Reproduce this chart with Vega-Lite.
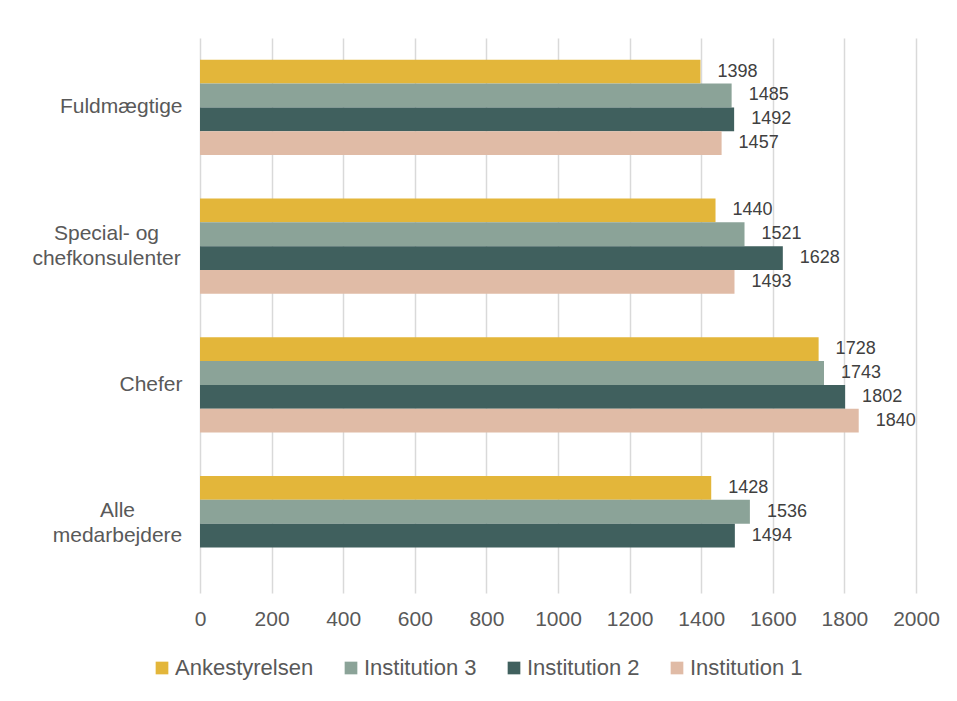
{
  "$schema": "https://vega.github.io/schema/vega-lite/v6.json",
  "autosize": "none",
  "width": 716,
  "height": 555,
  "padding": {"left": 200, "top": 38, "right": 41, "bottom": 108},
  "background": "white",
  "config": {
    "font": "Liberation Sans",
    "view": {"stroke": null},
    "axis": {"labelFont": "Liberation Sans", "labelColor": "#595959"}
  },
  "data": {
    "values": [
      {"kategori": "Fuldmægtige", "serie": "Ankestyrelsen", "vaerdi": 1398},
      {"kategori": "Fuldmægtige", "serie": "Institution 3", "vaerdi": 1485},
      {"kategori": "Fuldmægtige", "serie": "Institution 2", "vaerdi": 1492},
      {"kategori": "Fuldmægtige", "serie": "Institution 1", "vaerdi": 1457},
      {"kategori": "Special- og chefkonsulenter", "serie": "Ankestyrelsen", "vaerdi": 1440},
      {"kategori": "Special- og chefkonsulenter", "serie": "Institution 3", "vaerdi": 1521},
      {"kategori": "Special- og chefkonsulenter", "serie": "Institution 2", "vaerdi": 1628},
      {"kategori": "Special- og chefkonsulenter", "serie": "Institution 1", "vaerdi": 1493},
      {"kategori": "Chefer", "serie": "Ankestyrelsen", "vaerdi": 1728},
      {"kategori": "Chefer", "serie": "Institution 3", "vaerdi": 1743},
      {"kategori": "Chefer", "serie": "Institution 2", "vaerdi": 1802},
      {"kategori": "Chefer", "serie": "Institution 1", "vaerdi": 1840},
      {"kategori": "Alle medarbejdere", "serie": "Ankestyrelsen", "vaerdi": 1428},
      {"kategori": "Alle medarbejdere", "serie": "Institution 3", "vaerdi": 1536},
      {"kategori": "Alle medarbejdere", "serie": "Institution 2", "vaerdi": 1494}
    ]
  },
  "encoding": {
    "y": {
      "field": "kategori",
      "type": "nominal",
      "sort": ["Fuldmægtige", "Special- og chefkonsulenter", "Chefer", "Alle medarbejdere"],
      "scale": {"paddingInner": 0.315, "paddingOuter": 0.1575},
      "axis": {
        "title": null,
        "domain": false,
        "ticks": false,
        "labelPadding": {"condition": [
          {"test": "datum.value == 'Special- og chefkonsulenter'", "value": 94},
          {"test": "datum.value == 'Alle medarbejdere'", "value": 83}
        ], "value": 18},
        "labelAlign": {"condition": {"test": "indexof(datum.value, ' ') > 0", "value": "center"}, "value": "right"},
        "labelFontSize": 21,
        "labelLineHeight": 25,
        "labelLimit": 300,
        "labelOffset": {"condition": {"test": "indexof(datum.value, ' ') > 0", "value": -12.5}, "value": 0},
        "labelExpr": "datum.value == 'Special- og chefkonsulenter' ? ['Special- og', 'chefkonsulenter'] : datum.value == 'Alle medarbejdere' ? ['Alle', 'medarbejdere'] : datum.value"
      }
    },
    "yOffset": {
      "field": "serie",
      "type": "nominal",
      "sort": ["Ankestyrelsen", "Institution 3", "Institution 2", "Institution 1"],
      "scale": {"domain": ["Ankestyrelsen", "Institution 3", "Institution 2", "Institution 1"], "paddingInner": 0, "paddingOuter": 0}
    },
    "x": {
      "field": "vaerdi",
      "type": "quantitative",
      "scale": {"domain": [0, 2000], "nice": false},
      "axis": {
        "title": null,
        "values": [0, 200, 400, 600, 800, 1000, 1200, 1400, 1600, 1800, 2000],
        "format": "d",
        "domain": false,
        "ticks": false,
        "grid": true,
        "gridColor": "#D9D9D9",
        "gridWidth": 1.5,
        "labelFontSize": 21,
        "labelPadding": 15,
        "labelFlush": false
      }
    }
  },
  "layer": [
    {
      "mark": {"type": "bar"},
      "encoding": {
        "color": {
          "field": "serie",
          "type": "nominal",
          "scale": {
            "domain": ["Ankestyrelsen", "Institution 3", "Institution 2", "Institution 1"],
            "range": ["#E3B63A", "#8BA398", "#40605E", "#E0BBA6"]
          },
          "legend": {
            "title": null,
            "orient": "none",
            "direction": "horizontal",
            "columns": 4,
            "legendX": -49,
            "legendY": 619,
            "padding": 0,
            "symbolType": "square",
            "symbolSize": 161,
            "symbolStrokeWidth": 0,
            "labelFontSize": 22,
            "labelFont": "Liberation Sans",
            "labelColor": "#595959",
            "labelOffset": 2,
            "columnPadding": 26,
            "labelLimit": 300
          }
        }
      }
    },
    {
      "mark": {"type": "text", "align": "left", "baseline": "middle", "dx": 17, "fontSize": 18, "color": "#404040", "font": "Liberation Sans"},
      "encoding": {
        "text": {"field": "vaerdi", "type": "quantitative"}
      }
    }
  ]
}
